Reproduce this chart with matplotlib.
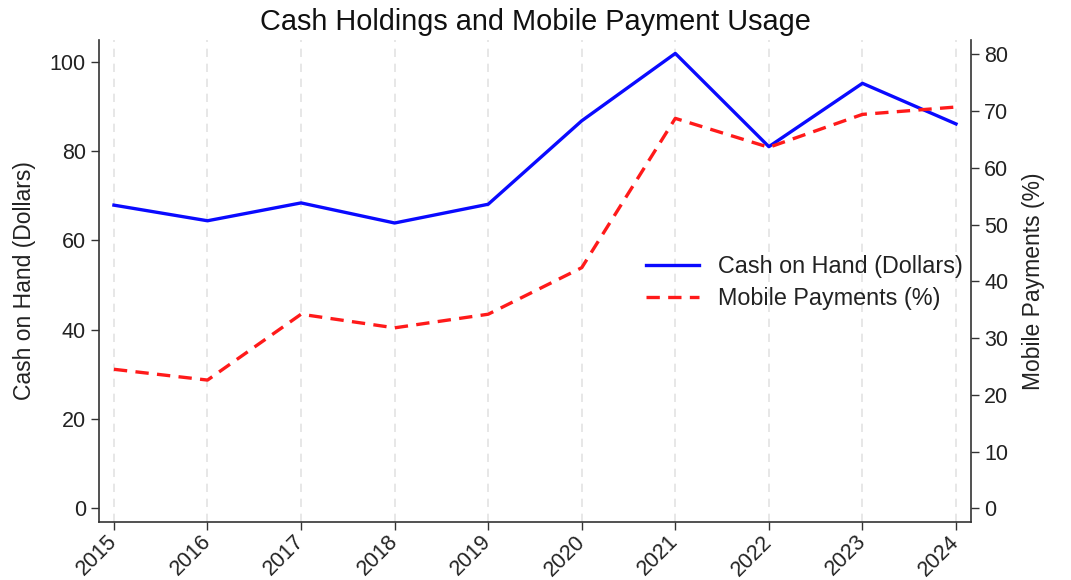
import matplotlib
matplotlib.use("Agg")
import matplotlib.pyplot as plt

plt.rcParams["font.family"] = ["Liberation Sans", "DejaVu Sans"]

# data
years = [2015, 2016, 2017, 2018, 2019, 2020, 2021, 2022, 2023, 2024]
cash_on_hand = [67.9, 64.4, 68.4, 63.9, 68.1, 86.8, 101.9, 81.0, 95.2, 86.1]
mobile_payments = [24.5, 22.6, 34.2, 31.8, 34.2, 42.4, 68.7, 63.6, 69.4, 70.7]

fig = plt.figure(figsize=(10.71, 5.8), dpi=100)
ax = fig.add_axes([0.0924, 0.1, 0.8142, 0.831])
ax2 = ax.twinx()

l1, = ax.plot(years, cash_on_hand, color="#0a0aff", lw=2.4, label="Cash on Hand (Dollars)")
l2, = ax2.plot(years, mobile_payments, color="#ff1a1a", lw=2.4, ls=(0, (4, 2.5)),
               label="Mobile Payments (%)")

ax.set_xlim(2014.84, 2024.16)
ax.set_ylim(-3.1, 104.9)
ax2.set_ylim(-2.4, 82.5)

ax.set_xticks(years)
ax.set_xticklabels([str(y) for y in years], rotation=45, ha="right", va="center",
                   rotation_mode="anchor")
ax.set_yticks([0, 20, 40, 60, 80, 100])
ax2.set_yticks([0, 10, 20, 30, 40, 50, 60, 70, 80])

ax.grid(axis="x", color="#e3e3e3", ls=(0, (5, 4)), lw=1.2)
ax.set_axisbelow(True)

for a in (ax, ax2):
    a.spines["top"].set_visible(False)
    for s in ("left", "right", "bottom"):
        a.spines[s].set_color("#333333")
        a.spines[s].set_linewidth(1.2)
    a.tick_params(labelsize=15.5, length=6, width=1, color="#333333", labelcolor="#222222")
ax.tick_params(axis="x", pad=6)

ax.spines["right"].set_visible(False)
ax2.spines["left"].set_visible(False)
ax2.spines["bottom"].set_visible(False)

ax.set_ylabel("Cash on Hand (Dollars)", fontsize=16.5, labelpad=10, color="#222222")
ax2.set_ylabel("Mobile Payments (%)", fontsize=16.5, labelpad=10, color="#222222")
ax.set_title("Cash Holdings and Mobile Payment Usage", fontsize=20.8, pad=7, color="#111111")

ax.legend(handles=[l1, l2], loc="center left", bbox_to_anchor=(0.603, 0.497),
          frameon=False, fontsize=16.8, handlelength=2.3, handletextpad=0.8,
          labelspacing=0.4, labelcolor="#222222")

fig.savefig("out.png", dpi=100)
